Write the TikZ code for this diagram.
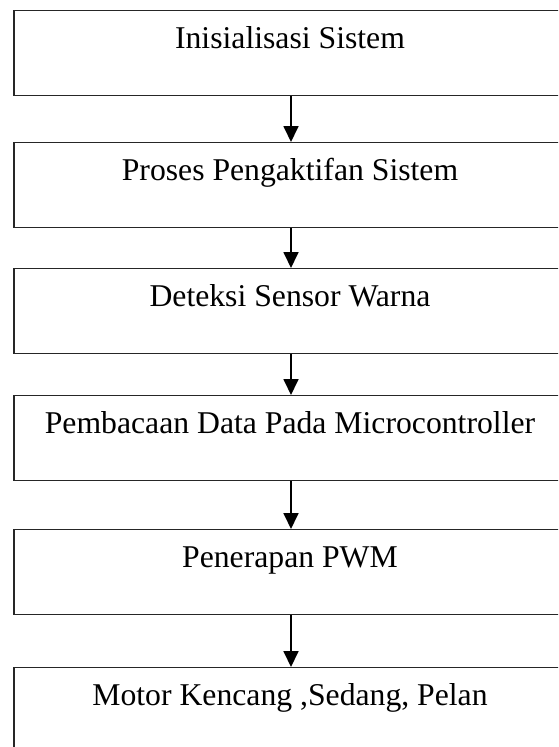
\documentclass[tikz,border=0pt]{standalone}
\usepackage{fontspec}
\setmainfont{Liberation Serif}
\usetikzlibrary{arrows.meta}
\begin{document}
\begin{tikzpicture}[x=1pt,y=-1pt,
  stepbox/.style={draw=black!85, line width=1.1pt, rectangle, anchor=north,
    minimum width=552pt, minimum height=85pt, inner sep=0pt,
    text height=22pt, text depth=32pt,
    font=\fontsize{31.7}{38}\selectfont},
  flow/.style={line width=1.8pt, -{Triangle[width=15pt,length=16pt]}}]
  \useasboundingbox (0,0) rectangle (558,747);
  \clip (0,0) rectangle (558,747);
  \node[stepbox] (b1) at (290,10)  {Inisialisasi Sistem};
  \node[stepbox] (b2) at (290,142) {Proses Pengaktifan Sistem};
  \node[stepbox] (b3) at (290,268) {Deteksi Sensor Warna};
  \node[stepbox] (b4) at (290,395) {Pembacaan Data Pada Microcontroller};
  \node[stepbox] (b5) at (290,529) {Penerapan PWM};
  \node[stepbox] (b6) at (290,667) {Motor Kencang ,Sedang, Pelan};
  \foreach \a/\b in {b1/b2,b2/b3,b3/b4,b4/b5,b5/b6}
    \draw[flow] ([xshift=1pt]\a.south) -- ([xshift=1pt]\b.north);
\end{tikzpicture}
\end{document}
